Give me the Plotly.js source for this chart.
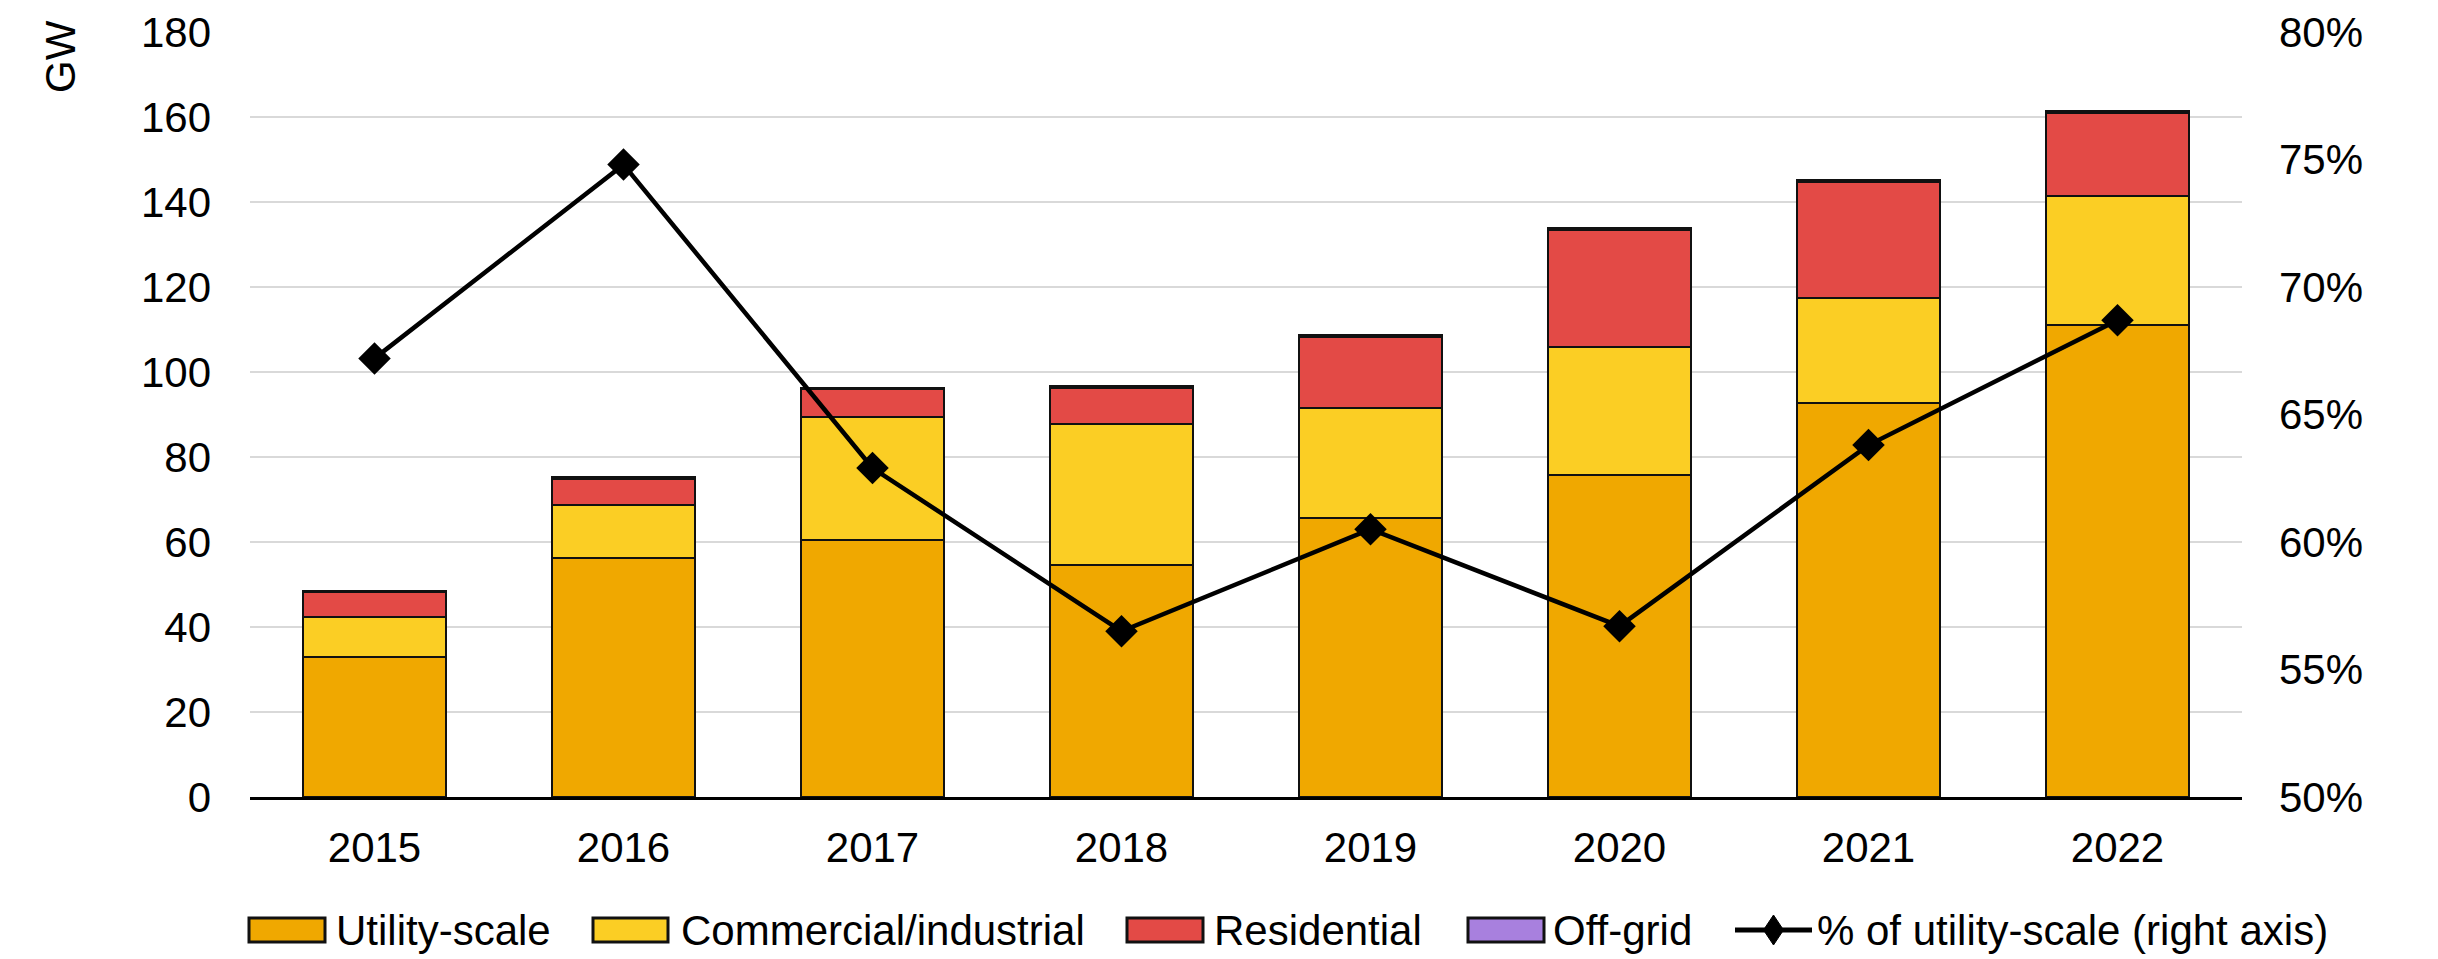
<!DOCTYPE html>
<html>
<head>
<meta charset="utf-8">
<script src="https://cdn.plot.ly/plotly-3.0.1.min.js"></script>
<style>
  html, body { margin: 0; padding: 0; background: #ffffff; }
  #chart { width: 2438px; height: 959px; }
</style>
</head>
<body>
<div id="chart"></div>
<script>
// ---- data ----
const years = ['2015', '2016', '2017', '2018', '2019', '2020', '2021', '2022'];
const utilityScale = [33.0, 56.3, 60.4, 54.5, 65.7, 75.7, 92.6, 111.1];
const commercialIndustrial = [9.3, 12.5, 28.9, 33.2, 25.9, 30.2, 24.9, 30.3];
const residential = [5.9, 6.0, 6.6, 8.5, 16.6, 27.6, 27.3, 19.5];
const offGrid = [0.3, 0.4, 0.4, 0.4, 0.4, 0.4, 0.4, 0.4];
const utilityShare = [67.2, 74.8, 62.9, 56.5, 60.5, 56.7, 63.8, 68.7];

const seriesNames = ['Utility-scale', 'Commercial/industrial', 'Residential', 'Off-grid', '% of utility-scale (right axis)'];
const seriesColors = ['#F0A800', '#FBCE24', '#E34A46', '#A880DE', '#000000'];
const leftTicks = [0, 20, 40, 60, 80, 100, 120, 140, 160, 180];
const rightTicks = [50, 55, 60, 65, 70, 75, 80];
const rightTickLabels = ['50%', '55%', '60%', '65%', '70%', '75%', '80%'];

// ---- layout geometry (pixels) ----
const W = 2438, H = 959;
const M = { l: 250, r: 196, t: 32, b: 162 };
const PW = W - M.l - M.r, PH = H - M.t - M.b;
const px2x = p => (p - M.l) / PW;
const px2y = p => (H - M.b - p) / PH;

const FONT = 'Liberation Sans, Arial, sans-serif';
const FS = 42;

const barSeries = [utilityScale, commercialIndustrial, residential, offGrid];
const traces = barSeries.map((vals, i) => ({
  type: 'bar',
  name: seriesNames[i],
  x: years,
  y: vals,
  marker: { color: seriesColors[i], line: { color: '#111111', width: 2 } },
  hoverinfo: 'x+y+name'
}));
traces.push({
  type: 'scatter',
  mode: 'lines+markers',
  name: seriesNames[4],
  x: years,
  y: utilityShare,
  yaxis: 'y2',
  line: { color: '#000000', width: 4.5 },
  marker: { symbol: 'diamond', size: 25, color: '#000000' }
});

// ---- custom legend (swatches + labels) ----
const legendY = 930;
const legendItems = [
  { sw: [249, 325], tx: 334 },
  { sw: [593, 668], tx: 679 },
  { sw: [1127, 1203], tx: 1212 },
  { sw: [1468, 1544], tx: 1551 },
  { sw: [1735, 1812], tx: 1815 }
];
const shapes = [];
const annotations = [];
legendItems.forEach((it, i) => {
  if (i < 4) {
    shapes.push({
      type: 'rect', xref: 'paper', yref: 'paper',
      x0: px2x(it.sw[0]), x1: px2x(it.sw[1]),
      y0: px2y(legendY + 12), y1: px2y(legendY - 12),
      fillcolor: seriesColors[i],
      line: { color: '#111111', width: 3 }
    });
  } else {
    shapes.push({
      type: 'line', xref: 'paper', yref: 'paper',
      x0: px2x(it.sw[0]), x1: px2x(it.sw[1]),
      y0: px2y(legendY), y1: px2y(legendY),
      line: { color: '#000000', width: 5 }
    });
    const cx = (it.sw[0] + it.sw[1]) / 2, dx = 10, dy = 15;
    shapes.push({
      type: 'path', xref: 'paper', yref: 'paper',
      path: 'M' + px2x(cx - dx) + ',' + px2y(legendY) +
            ' L' + px2x(cx) + ',' + px2y(legendY - dy) +
            ' L' + px2x(cx + dx) + ',' + px2y(legendY) +
            ' L' + px2x(cx) + ',' + px2y(legendY + dy) + ' Z',
      fillcolor: '#000000', line: { color: '#000000', width: 1 }
    });
  }
  annotations.push({
    xref: 'paper', yref: 'paper',
    x: px2x(it.tx), y: px2y(legendY),
    xanchor: 'left', yanchor: 'middle',
    text: seriesNames[i], showarrow: false,
    font: { family: FONT, size: FS, color: '#000000' }
  });
});
// axis unit label "GW" (rotated, top-left like the original)
annotations.push({
  xref: 'paper', yref: 'paper',
  x: px2x(60), y: px2y(57),
  xanchor: 'center', yanchor: 'middle',
  text: 'GW', textangle: -90, showarrow: false,
  font: { family: FONT, size: FS, color: '#000000' }
});

const layout = {
  width: W, height: H,
  margin: M,
  paper_bgcolor: '#ffffff',
  plot_bgcolor: '#ffffff',
  barmode: 'stack',
  bargap: 0.425,
  showlegend: false,
  font: { family: FONT, size: FS, color: '#000000' },
  xaxis: {
    type: 'category',
    showline: true, linecolor: '#000000', linewidth: 3,
    showgrid: false, zeroline: false,
    ticks: '', ticklabelstandoff: 12,
    tickfont: { family: FONT, size: FS, color: '#000000' }
  },
  yaxis: {
    range: [0, 180],
    tickvals: leftTicks,
    showgrid: true, gridcolor: '#D9D9D9', gridwidth: 2,
    zeroline: false, showline: false,
    ticks: '', ticklabelstandoff: 38,
    tickfont: { family: FONT, size: FS, color: '#000000' }
  },
  yaxis2: {
    overlaying: 'y', side: 'right',
    range: [50, 80],
    tickmode: 'array',
    tickvals: rightTicks,
    ticktext: rightTickLabels,
    showgrid: false, zeroline: false, showline: false,
    ticks: '', ticklabelstandoff: 36,
    tickfont: { family: FONT, size: FS, color: '#000000' }
  },
  shapes: shapes,
  annotations: annotations
};

Plotly.newPlot('chart', traces, layout, { displayModeBar: false, staticPlot: true });
</script>
</body>
</html>
